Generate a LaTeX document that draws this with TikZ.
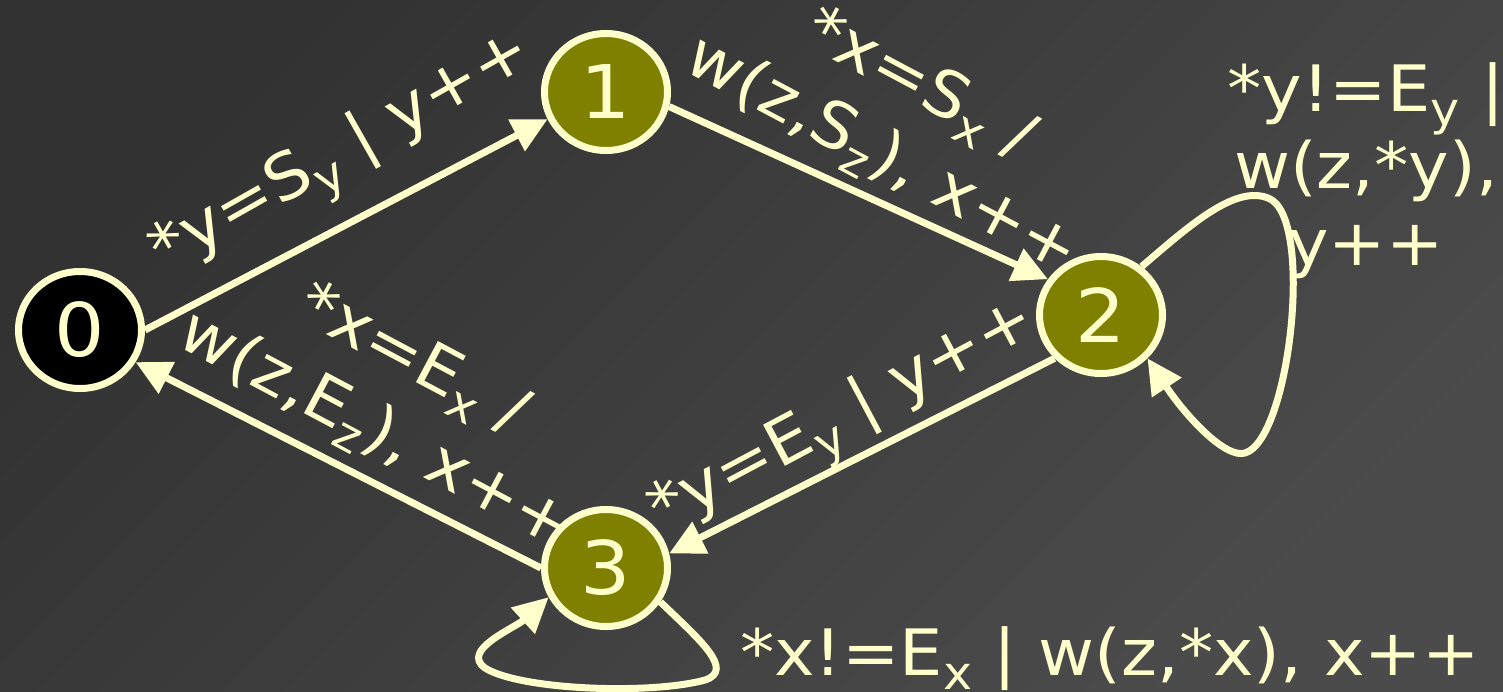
\documentclass[tikz,border=0pt]{standalone}
\usepackage{fontspec}
\setmainfont{DejaVu Sans}[FakeStretch=1.07]
\usetikzlibrary{arrows.meta,shapes.geometric}
\definecolor{cream}{HTML}{FFFFCC}
\definecolor{stateolive}{HTML}{808000}
\definecolor{bgdark}{HTML}{323232}
\definecolor{bglight}{HTML}{4B4B4B}
\newcommand{\lsub}[1]{\raisebox{-0.22em}{\fontsize{46}{46}\selectfont #1}}
\begin{document}
\begin{tikzpicture}[x=1pt,y=-1pt,
  state/.style={ellipse, draw=cream, line width=7pt, minimum width=123pt, minimum height=117pt,
    inner sep=0pt, text=cream, font=\fontsize{74}{74}\selectfont},
  conn/.style={draw=cream, line width=7pt, -{Triangle[length=35pt,width=34pt]}},
  lbl/.style={text=cream, font=\fontsize{64}{80}\selectfont, align=center, inner sep=0pt},
  lbltight/.style={text=cream, font=\fontsize{64}{77}\selectfont, align=center, inner sep=0pt}]
\useasboundingbox (0,0) rectangle (1503,691);
\shade[top color=bgdark, bottom color=bglight, shading angle=45] (0,0) rectangle (1503,691);

\node[state, fill=black] (n0) at (80,330) {0};
\node[state, fill=stateolive] (n1) at (606,92) {1};
\node[state, fill=stateolive] (n2) at (1101,315) {2};
\node[state, fill=stateolive] (n3) at (606,568) {3};

\draw[conn] (n0.east) -- (n1.-155);
\draw[conn] (n1.-13) -- (n2.146);
\draw[conn] (n2.-137) -- (n3.13);
\draw[conn] (n3.west) -- (n0.-30);

\draw[conn] (n2.50) .. controls (1190,225) and (1235,185) .. (1268,198)
  .. controls (1315,215) and (1290,440) .. (1245,453)
  .. controls (1225,459) and (1185,415) .. (n2.-43);
\draw[conn] (n3.-32) .. controls (700,640) and (735,670) .. (705,680)
  .. controls (650,695) and (520,690) .. (485,668)
  .. controls (460,650) and (515,628) .. (n3.-153);

\node[lbl, rotate=29.5] (l01) at (344,156) {*y=S\lsub{y} | y++};
\node[lbl, rotate=-28] (l12) at (900,122) {*x=S\lsub{x} /\\w(z,S\lsub{z}), x++};
\node[lbl, rotate=28] (l23) at (845,420) {*y=E\lsub{y} | y++};
\node[lbl, rotate=-28] (l30) at (393,397) {*x=E\lsub{x} /\\w(z,E\lsub{z}), x++};
\node[lbltight] (l22) at (1366,171) {*y!=E\lsub{y} |\\w(z,*y),\\y++};
\node[lbl, anchor=base west] (l33) at (740,675) {*x!=E\lsub{x} | w(z,*x), x++};
\end{tikzpicture}
\end{document}
